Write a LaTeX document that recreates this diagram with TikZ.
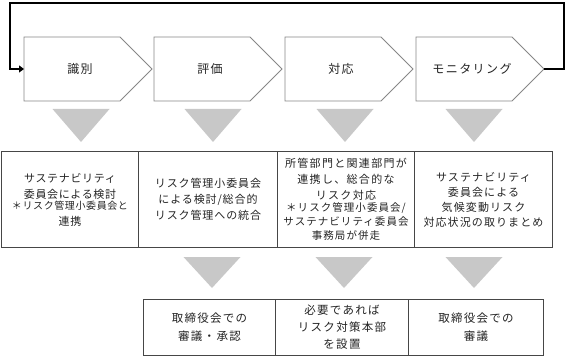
\documentclass[tikz,border=0pt]{standalone}
\usepackage{fontspec}
\newfontfamily\cjk{Noto Sans CJK JP}
\usetikzlibrary{arrows.meta}
\definecolor{tri}{RGB}{200,200,200}
\definecolor{chevline}{RGB}{135,135,135}
\definecolor{boxline}{RGB}{70,70,70}
\definecolor{txt}{RGB}{35,35,35}
\newcommand\lsp[1]{\addfontfeature{LetterSpace=#1}}
\begin{document}
\begin{tikzpicture}[x=1pt,y=-1pt,
  chev/.style={draw=chevline,line width=0.9pt,fill=white},
  chevlabel/.style={font=\cjk\fontsize{12}{14}\selectfont\lsp{12},text=txt,inner sep=0pt},
  boxnode/.style={draw=boxline,line width=1pt,anchor=north west,inner sep=0pt,align=center,text=txt},
  mid/.style={boxnode,minimum height=96pt},
  bot/.style={boxnode,minimum height=56pt},
  loopline/.style={line width=2pt,-{Triangle[length=5pt,width=7pt]}},
  arrowtri/.style={fill=tri}]
\useasboundingbox (0,0) rectangle (567,358);
% chevrons
\foreach \x/\n/\lab in {24/1/識別,154/2/評価,285/3/対応,416/4/モニタリング}{
  \draw[chev] (\x,37) -- (\x+96,37) -- (\x+128,69) -- (\x+96,101) -- (\x,101) -- cycle;
  \coordinate (c\n w) at (\x,69);
  \coordinate (c\n e) at (\x+128,69);
  \node[chevlabel] (t\n) at (\x+56,69) {\lab};
}
% loop back arrow
\coordinate (topR) at (564,3);
\coordinate (topL) at (10,3);
\draw[loopline] (c4e) -| (topR) -- (topL) |- (c1w);
% triangles top
\foreach \cx in {81,213,345,474}{
  \fill[arrowtri] (\cx-28.5,109) -- (\cx+28.5,109) -- (\cx,142) -- cycle;
}
% middle boxes
\node[mid,minimum width=137pt,font=\cjk\fontsize{11}{16}\selectfont\lsp{6}] (m1) at (1,151)
  {サステナビリティ\\委員会による検討\\[-5pt]{\fontsize{10}{16}\selectfont\lsp{6}＊リスク管理小委員会と}\\連携};
\node[mid,minimum width=139pt,font=\cjk\fontsize{11}{16}\selectfont\lsp{8}] (m2) at (138,151)
  {リスク管理小委員会\\による検討/総合的\\リスク管理への統合};
\node[mid,minimum width=137pt,font=\cjk\fontsize{11}{16}\selectfont\lsp{12}] (m3) at (277,151)
  {所管部門と関連部門が\\連携し、総合的な\\リスク対応\\[-4pt]{\fontsize{10.5}{14}\selectfont\lsp{10}＊リスク管理小委員会/}\\[-2pt]{\fontsize{10.5}{14}\selectfont\lsp{10}サステナビリティ委員会}\\[-2pt]{\fontsize{10.5}{14}\selectfont\lsp{10}事務局が併走}};
\node[mid,minimum width=138pt,font=\cjk\fontsize{11}{15}\selectfont\lsp{10}] (m4) at (414,151)
  {サステナビリティ\\委員会による\\気候変動リスク\\対応状況の取りまとめ};
% triangles bottom
\foreach \cx in {212,344,474}{
  \fill[arrowtri] (\cx-28.5,257) -- (\cx+28.5,257) -- (\cx,288) -- cycle;
}
% bottom boxes
\node[bot,minimum width=132pt,font=\cjk\fontsize{11.5}{18}\selectfont\lsp{11}] (b1) at (143,299)
  {取締役会での\\審議・承認};
\node[bot,minimum width=133pt,font=\cjk\fontsize{11.5}{17}\selectfont\lsp{11}] (b2) at (275,299)
  {必要であれば\\リスク対策本部\\を設置};
\node[bot,minimum width=135pt,font=\cjk\fontsize{11.5}{18}\selectfont\lsp{11}] (b3) at (408,299)
  {取締役会での\\審議};
\end{tikzpicture}
\end{document}
